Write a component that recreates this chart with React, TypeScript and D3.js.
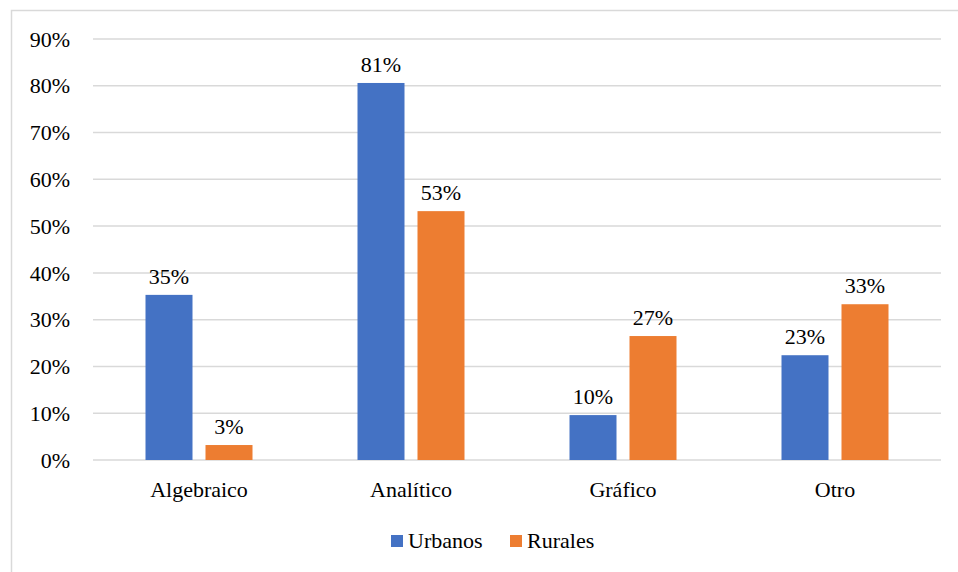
import React from "react";
import * as d3 from "d3";

const categories = ["Algebraico", "Analítico", "Gráfico", "Otro"];
const seriesNames = ["Urbanos", "Rurales"];
const urbanos = [35.3, 80.6, 9.6, 22.4];
const rurales = [3.2, 53.2, 26.5, 33.3];
const urbanosLabels = ["35%", "81%", "10%", "23%"];
const ruralesLabels = ["3%", "53%", "27%", "33%"];
const yTicks = [0, 10, 20, 30, 40, 50, 60, 70, 80, 90];
const colors = ["#4472C4", "#ED7D31"];

const W = 958;
const H = 572;
const FONT = "Liberation Serif, Tinos, Times New Roman, DejaVu Serif, serif";
const ts: React.CSSProperties = { fontFamily: FONT, fontSize: "22px" };

export default function App() {
  const x = d3.scaleBand<string>().domain(categories).range([93, 941]).padding(0);
  const inner = d3
    .scaleBand<string>()
    .domain(seriesNames)
    .range([0, x.bandwidth()])
    .paddingInner(13 / 60)
    .paddingOuter(0.875);
  const y = d3.scaleLinear().domain([0, 90]).range([460, 39]);
  const values = [urbanos, rurales];
  const labels = [urbanosLabels, ruralesLabels];

  return (
    <svg
      width={W}
      height={H}
      style={{ position: "absolute", left: 0, top: 0, background: "#fff" }}
    >
      <rect x={11.5} y={10.5} width={W} height={H} fill="#fff" stroke="#d9d9d9" strokeWidth={1.5} />
      {yTicks.map((t) => (
        <g key={t}>
          <line x1={93} x2={941} y1={y(t)} y2={y(t)} stroke="#d9d9d9" strokeWidth={1.5} />
          <text x={70} y={y(t)} dy="0.35em" textAnchor="end" style={ts} fill="#000">
            {t}%
          </text>
        </g>
      ))}
      {categories.map((c, i) => (
        <g key={c} transform={`translate(${x(c)},0)`}>
          {seriesNames.map((s, j) => {
            const v = values[j][i];
            const bx = inner(s)!;
            return (
              <g key={s}>
                <rect x={bx} y={y(v)} width={inner.bandwidth()} height={y(0) - y(v)} fill={colors[j]} />
                <text
                  x={bx + inner.bandwidth() / 2}
                  y={y(v) - 11}
                  textAnchor="middle"
                  style={ts}
                  fill="#000"
                >
                  {labels[j][i]}
                </text>
              </g>
            );
          })}
          <text x={x.bandwidth() / 2} y={497} textAnchor="middle" style={ts} fill="#000">
            {c}
          </text>
        </g>
      ))}
      {seriesNames.map((s, j) => {
        const lx = j === 0 ? 391 : 510;
        return (
          <g key={s}>
            <rect x={lx} y={535} width={12} height={12} fill={colors[j]} />
            <text x={lx + 17} y={548} style={ts} fill="#000">
              {s}
            </text>
          </g>
        );
      })}
    </svg>
  );
}
